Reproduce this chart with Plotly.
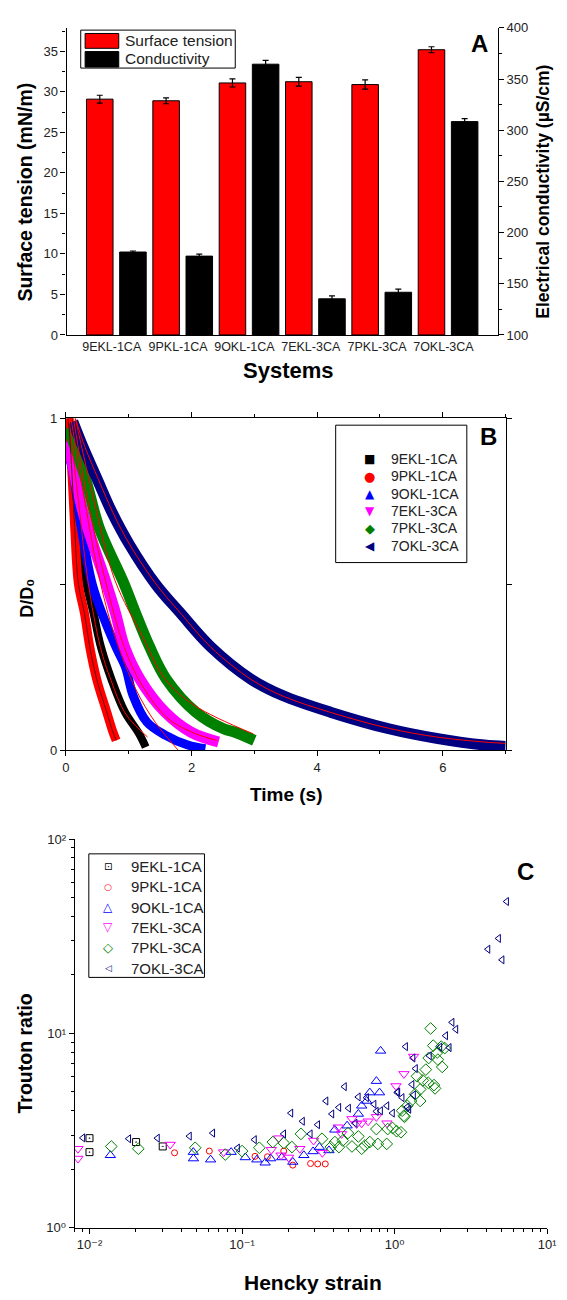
import plotly.graph_objects as go

# The page body has an 8 px margin, so the figure is drawn 8 px right/down.
OX, OY = 8, 8
FW, FH = 559, 1292
def px(x): return (x - OX) / FW
def py(y): return 1 - (y - OY) / FH

FONT = "Liberation Sans, DejaVu Sans, Arial, sans-serif"
SYMFONT = "DejaVu Sans"

# ---------------- Panel A data ----------------
systems = ["9EKL-1CA", "9PKL-1CA", "9OKL-1CA", "7EKL-3CA", "7PKL-3CA", "7OKL-3CA"]
surface_tension = [29.1, 28.9, 31.1, 31.25, 30.9, 35.2]
surface_tension_err = [0.48, 0.37, 0.5, 0.53, 0.57, 0.37]
conductivity = [181.0, 177.0, 364.5, 135.3, 141.7, 308.4]
conductivity_err = [1.0, 2.0, 3.8, 2.9, 3.0, 3.0]

# ---------------- Panel B data (D/D0 vs time) ----------------
series_names = ["9EKL-1CA", "9PKL-1CA", "9OKL-1CA", "7EKL-3CA", "7PKL-3CA", "7OKL-3CA"]
series_colors = ["#000000", "#ff0000", "#0000ff", "#ff00ff", "#008000", "#000080"]

t_9EKL = [0.05, 0.10, 0.155, 0.23, 0.33, 0.44, 0.555, 0.725, 0.94, 1.165, 1.27]
d_9EKL = [1.0, 0.92, 0.82, 0.67, 0.50, 0.413, 0.313, 0.214, 0.115, 0.05, 0.01]
t_9PKL = [0.03, 0.05, 0.10, 0.14, 0.20, 0.295, 0.378, 0.49, 0.65, 0.74, 0.80]
d_9PKL = [1.0, 0.97, 0.82, 0.67, 0.50, 0.413, 0.313, 0.214, 0.115, 0.06, 0.03]
t_9OKL = [0.02, 0.10, 0.245, 0.42, 0.60, 0.80, 0.95, 1.07, 1.29, 1.58, 1.94, 2.22]
d_9OKL = [0.90, 0.85, 0.67, 0.50, 0.40, 0.31, 0.25, 0.165, 0.085, 0.046, 0.016, 0.005]
t_7EKL = [0.02, 0.06, 0.27, 0.45, 0.63, 0.79, 0.93, 1.18, 1.58, 1.99, 2.43]
d_7EKL = [0.93, 0.90, 0.72, 0.61, 0.51, 0.413, 0.313, 0.214, 0.115, 0.055, 0.025]
t_7PKL = [0.02, 0.05, 0.31, 0.53, 0.93, 1.11, 1.33, 1.60, 2.07, 2.51, 2.67, 3.0]
d_7PKL = [0.97, 0.96, 0.82, 0.67, 0.50, 0.413, 0.313, 0.214, 0.115, 0.065, 0.056, 0.03]
t_7OKL = [0.11, 0.26, 0.49, 0.725, 1.01, 1.43, 1.825, 2.30, 2.95, 3.45, 4.21, 5.14, 5.90, 6.66, 7.0]
d_7OKL = [0.99, 0.919, 0.82, 0.72, 0.62, 0.50, 0.413, 0.313, 0.214, 0.165, 0.115, 0.065, 0.036, 0.016, 0.012]

# fitted curves (thin red lines)
fit_t_9EKL = [0.05, 0.20, 0.35, 0.55, 0.72, 0.95, 1.30]
fit_d_9EKL = [1.0, 0.75, 0.51, 0.31, 0.21, 0.11, 0.04]
fit_t_9OKL = [0.08, 0.30, 0.54, 0.78, 1.11, 1.42, 1.79]
fit_d_9OKL = [1.0, 0.75, 0.512, 0.343, 0.185, 0.085, 0.0]
fit_t_7EKL = [0.12, 0.35, 0.63, 0.93, 1.20, 1.60, 2.00, 2.40]
fit_d_7EKL = [1.0, 0.75, 0.51, 0.31, 0.20, 0.10, 0.055, 0.03]
fit_t_7PKL = [0.15, 0.45, 0.78, 1.22, 1.58, 2.05, 2.98]
fit_d_7PKL = [1.0, 0.75, 0.512, 0.343, 0.214, 0.135, 0.05]
fit_t_7OKL = [0.15, 0.30, 0.52, 0.75, 1.03, 1.45, 1.84, 2.31, 2.96, 3.46, 4.22, 5.15, 5.91, 6.67, 7.0]
fit_d_7OKL = [1.0, 0.915, 0.815, 0.715, 0.615, 0.497, 0.41, 0.31, 0.212, 0.163, 0.114, 0.066, 0.04, 0.025, 0.021]

# ---------------- Panel C data (Trouton ratio vs Hencky strain) ----------------
h_9EKL = [0.0100, 0.0100, 0.0202, 0.0302]
tr_9EKL = [2.89, 2.45, 2.76, 2.62]
h_9PKL = [0.0361, 0.061, 0.1216, 0.1466, 0.1875, 0.215, 0.281, 0.313, 0.351]
tr_9PKL = [2.43, 2.48, 2.33, 2.32, 2.48, 2.10, 2.14, 2.13, 2.13]
h_9OKL = [0.0137, 0.0479, 0.048, 0.0622, 0.0848, 0.105, 0.125, 0.1416, 0.154, 0.182, 0.215,
          0.254, 0.292, 0.321, 0.371, 0.405, 0.488, 0.578, 0.608, 0.655, 0.687, 0.759, 0.796, 0.809]
tr_9OKL = [2.36, 2.45, 2.27, 2.24, 2.45, 2.30, 2.24, 2.16, 2.27, 2.30, 2.18,
           2.36, 2.47, 2.60, 2.50, 3.19, 3.35, 3.85, 4.24, 4.49, 4.96, 5.68, 4.96, 8.13]
h_7EKL = [0.0084, 0.0084, 0.0338, 0.0757, 0.1555, 0.174, 0.18, 0.2018, 0.239, 0.294, 0.336,
          0.427, 0.449, 0.525, 0.563, 0.608, 0.67, 0.759, 0.89, 1.02, 1.15, 1.33]
tr_7EKL = [2.55, 2.27, 2.68, 2.45, 2.52, 2.89, 2.36, 2.30, 2.55, 2.81, 2.43,
           3.29, 3.04, 3.63, 3.42, 3.45, 3.53, 3.72, 3.45, 5.36, 6.19, 7.6]
h_7PKL = [0.0139, 0.0209, 0.0493, 0.0776, 0.10, 0.1297, 0.159, 0.1875, 0.212, 0.243, 0.334,
          0.381, 0.406, 0.431, 0.457, 0.494, 0.525, 0.578, 0.608, 0.638, 0.687, 0.759, 0.776,
          0.887, 0.90, 0.968, 1.03, 1.10, 1.12, 1.15, 1.16, 1.21, 1.28, 1.36, 1.40, 1.47, 1.47,
          1.53, 1.60, 1.66, 1.67, 1.72, 1.79, 1.81, 1.84, 1.90, 1.92, 2.02, 2.05, 2.13]
tr_7PKL = [2.62, 2.55, 2.58, 2.38, 2.48, 2.58, 2.76, 2.73, 2.60, 3.04, 2.87,
           2.60, 2.76, 2.60, 2.81, 3.07, 2.62, 2.95, 2.55, 2.65, 2.76, 3.22, 2.70,
           2.70, 3.22, 3.26, 3.14, 3.10, 4.0, 3.77, 3.72, 4.24, 4.49, 4.86, 6.02, 5.15, 4.49,
           5.73, 6.51, 5.57, 7.47, 10.6, 8.65, 5.42, 5.21, 7.97, 7.33, 8.55, 6.72, 8.4]
h_7OKL = [0.00905, 0.0181, 0.0279, 0.0452, 0.0643, 0.0934, 0.1206, 0.1875, 0.209, 0.249, 0.28,
          0.313, 0.355, 0.388, 0.431, 0.469, 0.499, 0.551, 0.578, 0.655, 0.733, 0.759, 0.809,
          0.89, 0.968, 1.04, 1.05, 1.12, 1.18, 1.21, 1.24, 1.30, 1.32, 1.33, 1.37, 1.69, 1.98,
          2.16, 2.28, 2.38, 2.52, 4.09, 4.80, 5.06, 5.42]
tr_7OKL = [2.90, 2.87, 2.89, 2.96, 3.07, 2.57, 2.84, 3.04, 3.89, 3.53, 3.04,
           3.39, 4.49, 3.85, 4.16, 5.32, 4.12, 3.45, 4.71, 4.67, 4.32, 3.97, 4.0,
           4.24, 3.89, 4.96, 5.0, 4.67, 8.55, 4.18, 4.07, 5.46, 7.47, 4.82, 6.59, 7.67, 8.5,
           9.73, 8.45, 11.4, 10.5, 27.1, 30.8, 23.9, 47.7]

fig = go.Figure()

# ---------- Panel A ----------
fig.add_trace(go.Bar(
    x=systems, y=surface_tension, offset=-0.38, width=0.4,
    marker=dict(color="#ff0000", line=dict(color="#000000", width=1)),
    error_y=dict(type="data", array=surface_tension_err, color="#000000", thickness=1.2, width=3),
    xaxis="x", yaxis="y", showlegend=False, name="Surface tension"))
fig.add_trace(go.Bar(
    x=systems, y=conductivity, offset=0.12, width=0.4,
    marker=dict(color="#000000", line=dict(color="#000000", width=1)),
    error_y=dict(type="data", array=conductivity_err, color="#000000", thickness=1.2, width=3),
    xaxis="x", yaxis="y2", showlegend=False, name="Conductivity"))

# ---------- Panel B ----------
band_t = [t_9EKL, t_9PKL, t_9OKL, t_7EKL, t_7PKL, t_7OKL]
band_d = [d_9EKL, d_9PKL, d_9OKL, d_7EKL, d_7PKL, d_7OKL]
band_w = [8, 9, 9, 11, 11, 11]
for name, col, tt, dd, w in zip(series_names, series_colors, band_t, band_d, band_w):
    fig.add_trace(go.Scatter(x=tt, y=dd, mode="lines",
                             line=dict(color=col, width=w, shape="spline", smoothing=1.0),
                             xaxis="x3", yaxis="y3", showlegend=False, name=name))
fit_t = [fit_t_9EKL, fit_t_9OKL, fit_t_7EKL, fit_t_7PKL, fit_t_7OKL]
fit_d = [fit_d_9EKL, fit_d_9OKL, fit_d_7EKL, fit_d_7PKL, fit_d_7OKL]
for tt, dd in zip(fit_t, fit_d):
    fig.add_trace(go.Scatter(x=tt, y=dd, mode="lines",
                             line=dict(color="#ff0000", width=1, shape="spline", smoothing=1.0),
                             xaxis="x3", yaxis="y3", showlegend=False, hoverinfo="skip"))
fig.add_trace(go.Scatter(x=t_9PKL, y=d_9PKL, mode="lines",
                         line=dict(color="#700000", width=1, shape="spline", smoothing=1.0),
                         xaxis="x3", yaxis="y3", showlegend=False, hoverinfo="skip"))

# ---------- Panel C ----------
open_symbols = ["square-open-dot", "circle-open", "triangle-up-open", "triangle-down-open",
                "diamond-open", "triangle-left-open"]
open_sizes = [7, 6, 9, 9, 9, 7]
hx = [h_9EKL, h_9PKL, h_9OKL, h_7EKL, h_7PKL, h_7OKL]
ty = [tr_9EKL, tr_9PKL, tr_9OKL, tr_7EKL, tr_7PKL, tr_7OKL]
for name, col, sym, sz, xx, yy in zip(series_names, series_colors, open_symbols, open_sizes, hx, ty):
    fig.add_trace(go.Scatter(x=xx, y=yy, mode="markers", name=name, showlegend=False,
                             marker=dict(symbol=sym, color=col, size=sz, line=dict(color=col, width=1)),
                             xaxis="x4", yaxis="y4"))

axis_common = dict(showgrid=False, zeroline=False, showline=True, linecolor="#000000", linewidth=1.2,
                   tickcolor="#000000", ticklabeloverflow="allow",
                   tickfont=dict(family=FONT, size=13, color="#222222"))

c_xtv = [0.01, 0.1, 1, 10]
c_xtt = ["10\u207b\u00b2", "10\u207b\u00b9", "10\u2070", "10\u00b9"]
c_ytv = [1, 10, 100]
c_ytt = ["10\u2070", "10\u00b9", "10\u00b2"]
minor_x = [k * 10 ** e for e in range(-3, 1) for k in range(2, 10)]
minor_y = [k * 10 ** e for e in range(0, 2) for k in range(2, 10)]

fig.update_layout(
    width=FW, height=FH, margin=dict(l=0, r=0, t=0, b=0),
    paper_bgcolor="white", plot_bgcolor="white",
    barmode="overlay", showlegend=False,
    font=dict(family=FONT, color="#000000"),
    # Panel A
    xaxis=dict(axis_common, domain=[px(64), px(506.3)], anchor="y", type="category",
               range=[-0.68, 5.82], ticks="", tickfont=dict(family=FONT, size=12.5, color="#222222")),
    xaxis2=dict(axis_common, overlaying="x", side="top", anchor="y", range=[-0.68, 5.82],
                tickmode="array", tickvals=[i + 0.32 for i in range(len(systems))],
                ticks="outside", ticklen=4, showticklabels=False),
    yaxis=dict(axis_common, domain=[py(331.7), py(21)], anchor="x", range=[0, 37.9],
               tickvals=[0, 5, 10, 15, 20, 25, 30, 35], ticks="outside", ticklen=5,
               minor=dict(dtick=2.5, ticks="outside", ticklen=3, tickcolor="#000000")),
    yaxis2=dict(axis_common, overlaying="y", side="right", anchor="x", range=[100, 400],
                tickvals=[100, 150, 200, 250, 300, 350, 400], ticks="outside", ticklen=5,
                minor=dict(dtick=25, ticks="outside", ticklen=3, tickcolor="#000000")),
    # Panel B
    xaxis3=dict(axis_common, domain=[px(63.3), px(514.3)], anchor="y3", range=[0, 7],
                tickvals=[0, 2, 4, 6], ticks="outside", ticklen=5, mirror="ticks",
                minor=dict(dtick=1, ticks="outside", ticklen=3, tickcolor="#000000")),
    yaxis3=dict(axis_common, domain=[py(752), py(416)], anchor="x3", range=[0, 1],
                tickvals=[0, 1], ticks="outside", ticklen=5, mirror="ticks",
                minor=dict(dtick=0.5, ticks="outside", ticklen=5, tickcolor="#000000")),
    # Panel C
    xaxis4=dict(axis_common, domain=[px(72.3), px(557)], anchor="y4", type="log", range=[-2.097, 1],
                tickvals=c_xtv, ticktext=c_xtt, ticks="outside", ticklen=5,
                minor=dict(tickvals=minor_x, ticks="outside", ticklen=3, tickcolor="#000000")),
    yaxis4=dict(axis_common, domain=[py(1235), py(841.7)], anchor="x4", type="log", range=[0, 2],
                tickvals=c_ytv, ticktext=c_ytt, ticks="outside", ticklen=5,
                minor=dict(tickvals=minor_y, ticks="outside", ticklen=3, tickcolor="#000000")),
    xaxis5=dict(axis_common, overlaying="x4", side="top", anchor="y4", type="log", range=[-2.097, 1],
                tickvals=c_xtv, ticks="inside", ticklen=5, showticklabels=False,
                minor=dict(tickvals=minor_x, ticks="inside", ticklen=3, tickcolor="#000000")),
    yaxis5=dict(axis_common, overlaying="y4", side="right", anchor="x4", type="log", range=[0, 2],
                tickvals=c_ytv, ticks="inside", ticklen=5, showticklabels=False,
                minor=dict(tickvals=minor_y, ticks="inside", ticklen=3, tickcolor="#000000")),
)

shapes = [
    dict(type="rect", xref="paper", yref="paper", x0=px(78.5), x1=px(237), y0=py(61.7), y1=py(23.3),
         line=dict(color="#000000", width=1), fillcolor="white", layer="above"),
    dict(type="rect", xref="paper", yref="paper", x0=px(83), x1=px(117.5), y0=py(41.7), y1=py(26.7),
         line=dict(color="#000000", width=1), fillcolor="#ff0000", layer="above"),
    dict(type="rect", xref="paper", yref="paper", x0=px(83), x1=px(117.5), y0=py(60.7), y1=py(45),
         line=dict(color="#000000", width=1), fillcolor="#000000", layer="above"),
    dict(type="rect", xref="paper", yref="paper", x0=px(340), x1=px(474.5), y0=py(562), y1=py(423),
         line=dict(color="#000000", width=1)),
    dict(type="rect", xref="paper", yref="paper", x0=px(86.8), x1=px(205.4), y0=py(981.7), y1=py(856.7),
         line=dict(color="#000000", width=1)),
]
fig.update_layout(shapes=shapes)

def ann(text, x, y, size, bold=True, angle=0, xanchor="center", color="#000000", family=FONT):
    return dict(text=("<b>%s</b>" % text) if bold else text, x=px(x), y=py(y), xref="paper", yref="paper",
                showarrow=False, textangle=angle, xanchor=xanchor, yanchor="middle",
                font=dict(family=family, size=size, color=color))

annotations = [
    ann("Surface tension", 122, 34.3, 15.5, bold=False, xanchor="left", color="#222222"),
    ann("Conductivity", 122, 52.3, 15.5, bold=False, xanchor="left", color="#222222"),
    ann("Surface tension (mN/m)", 21, 187, 19.5, angle=-90),
    ann("Electrical conductivity (\u00b5S/cm)", 553, 186.5, 17.5, angle=-90),
    ann("Systems", 292, 368, 22),
    ann("A", 488, 37, 24),
    ann("D/D\u2080", 24, 598, 18, angle=-90),
    ann("Time (s)", 290, 797, 19),
    ann("B", 497, 434, 24),
    ann("Trouton ratio", 21, 1059, 19.5, angle=-90),
    ann("Hencky strain", 317, 1290, 21),
    ann("C", 535, 875, 24),
]

b_glyphs = ["\u25a0", "\u25cf", "\u25b2", "\u25bc", "\u25c6", "\u25c0"]
b_glyph_sizes = [12, 13, 12, 12, 13, 12]
for i, (name, col, g, gs) in enumerate(zip(series_names, series_colors, b_glyphs, b_glyph_sizes)):
    yy = 457 + 17.6 * i
    annotations.append(ann(g, 375, yy, gs, bold=False, color=col, family=SYMFONT))
    annotations.append(ann(name, 395, yy, 14, bold=False, xanchor="left", color="#222222"))

c_glyphs = ["\u22a1", "\u25cb", "\u25b3", "\u25bd", "\u25c7", "\u25c1"]
c_glyph_sizes = [10, 9, 12, 12, 13, 9]
for i, (name, col, g, gs) in enumerate(zip(series_names, series_colors, c_glyphs, c_glyph_sizes)):
    yy = 869.3 + 20.6 * i
    annotations.append(ann(g, 106.7, yy, gs, bold=False, color=col, family=SYMFONT))
    annotations.append(ann(name, 128.4, yy, 15, bold=False, xanchor="left", color="#222222"))

fig.update_layout(annotations=annotations)

fig.write_html("out.html")
